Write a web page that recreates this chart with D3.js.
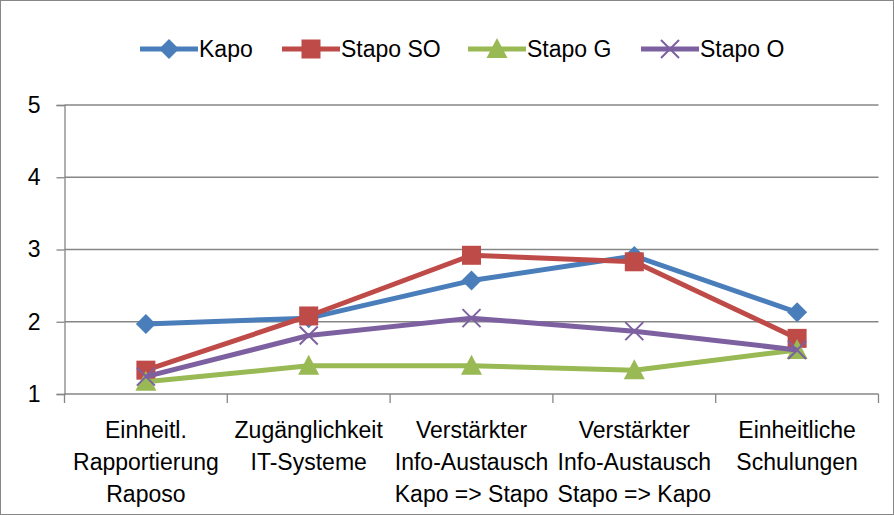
<!DOCTYPE html>
<html>
<head>
<meta charset="utf-8">
<script src="https://cdn.jsdelivr.net/npm/d3@7"></script>
<style>
  body { margin: 0; background: #fff; }
  text { font-family: "Liberation Sans", sans-serif; fill: #000; }
</style>
</head>
<body>
<div id="sketchpad"></div>
<script>
var categories = [
    ["Einheitl.", "Rapportierung", "Raposo"],
    ["Zugänglichkeit", "IT-Systeme"],
    ["Verstärkter", "Info-Austausch", "Kapo => Stapo"],
    ["Verstärkter", "Info-Austausch", "Stapo => Kapo"],
    ["Einheitliche", "Schulungen"]
];
var seriesNames = ["Kapo", "Stapo SO", "Stapo G", "Stapo O"];
var kapo    = [1.97, 2.05, 2.57, 2.91, 2.13];
var stapoSO = [1.33, 2.08, 2.92, 2.83, 1.77];
var stapoG  = [1.17, 1.39, 1.39, 1.33, 1.61];
var stapoO  = [1.24, 1.81, 2.05, 1.87, 1.61];
var yTicks  = [1, 2, 3, 4, 5];

var w = 894, h = 515;
var colors = ["#4a7ebb", "#be4b48", "#98b954", "#7d60a0"];
var shapes = ["diamond", "square", "triangle", "cross"];
var series = [kapo, stapoSO, stapoG, stapoO];

var svg = d3.select("#sketchpad").append("svg")
    .attr("width", w).attr("height", h);

svg.append("rect")
    .attr("x", 0.5).attr("y", 0.5)
    .attr("width", w - 1).attr("height", h - 1)
    .attr("fill", "#fff").attr("stroke", "#878787");

var x = d3.scaleBand().domain(d3.range(categories.length)).range([64.5, 878.5]);
var y = d3.scaleLinear().domain([1, 5]).range([394, 105]);

// gridlines
svg.selectAll("line.grid")
    .data(yTicks.slice(1))
    .enter().append("line")
    .attr("class", "grid")
    .attr("x1", 64.5).attr("x2", 878.5)
    .attr("y1", function(d) { return y(d); })
    .attr("y2", function(d) { return y(d); })
    .attr("stroke", "#868686").attr("stroke-width", 1.3);

// y axis
var yAxis = svg.append("g").attr("transform", "translate(64.5,0)")
    .call(d3.axisLeft(y).tickValues(yTicks).tickSize(8).tickPadding(16).tickFormat(d3.format("d")));
yAxis.select(".domain").attr("stroke", "#868686").attr("stroke-width", 1.3);
yAxis.selectAll(".tick line").attr("stroke", "#868686").attr("stroke-width", 1.3);
yAxis.selectAll("text").style("font-size", "23px").style("font-family", "Liberation Sans, sans-serif").attr("fill", "#000");

// x axis
var xAxis = svg.append("g").attr("transform", "translate(0,394)");
xAxis.append("line").attr("x1", 64.5).attr("x2", 878.5).attr("y1", 0).attr("y2", 0)
    .attr("stroke", "#868686").attr("stroke-width", 1.3);
xAxis.selectAll("line.tk")
    .data(d3.range(categories.length + 1))
    .enter().append("line")
    .attr("class", "tk")
    .attr("x1", function(i) { return 64.5 + i * x.bandwidth(); })
    .attr("x2", function(i) { return 64.5 + i * x.bandwidth(); })
    .attr("y1", 0).attr("y2", 9)
    .attr("stroke", "#868686").attr("stroke-width", 1.3);

var labels = xAxis.selectAll("text.cat")
    .data(categories)
    .enter().append("text")
    .attr("class", "cat")
    .attr("text-anchor", "middle")
    .style("font-size", "23px")
    .attr("transform", function(d, i) { return "translate(" + (x(i) + x.bandwidth() / 2) + ",44)"; });
labels.selectAll("tspan")
    .data(function(d) { return d; })
    .enter().append("tspan")
    .attr("x", 0)
    .attr("dy", function(d, i) { return i === 0 ? 0 : 32; })
    .text(function(d) { return d; });

function marker(g, shape, color) {
    if (shape === "diamond") {
        g.append("path").attr("d", "M0,-10L10,0L0,10L-10,0Z").attr("fill", color);
    } else if (shape === "square") {
        g.append("rect").attr("x", -9.5).attr("y", -9.5).attr("width", 19).attr("height", 19).attr("fill", color);
    } else if (shape === "triangle") {
        g.append("path").attr("d", "M0,-11L10.5,9L-10.5,9Z").attr("fill", color);
    } else {
        g.append("path").attr("d", "M-9,-9L9,9M-9,9L9,-9").attr("stroke", color).attr("stroke-width", 2).attr("fill", "none");
    }
}

var line = d3.line()
    .x(function(d, i) { return x(i) + x.bandwidth() / 2; })
    .y(function(d) { return y(d); });

series.forEach(function(vals, s) {
    var g = svg.append("g");
    g.append("path")
        .attr("d", line(vals))
        .attr("fill", "none")
        .attr("stroke", colors[s])
        .attr("stroke-width", 5)
        .attr("stroke-linejoin", "round");
    vals.forEach(function(v, i) {
        var m = g.append("g").attr("transform", "translate(" + (x(i) + x.bandwidth() / 2) + "," + y(v) + ")");
        marker(m, shapes[s], colors[s]);
    });
});

// legend
var legendX = [140, 282, 468, 641];
seriesNames.forEach(function(name, s) {
    var lg = svg.append("g").attr("transform", "translate(" + legendX[s] + ",49)");
    lg.append("line").attr("x1", 0).attr("x2", 58).attr("y1", 0).attr("y2", 0)
        .attr("stroke", colors[s]).attr("stroke-width", 5);
    var m = lg.append("g").attr("transform", "translate(29,0)");
    marker(m, shapes[s], colors[s]);
    lg.append("text").attr("x", 59).attr("y", 8).style("font-size", "23px").text(name);
});
</script>
</body>
</html>
